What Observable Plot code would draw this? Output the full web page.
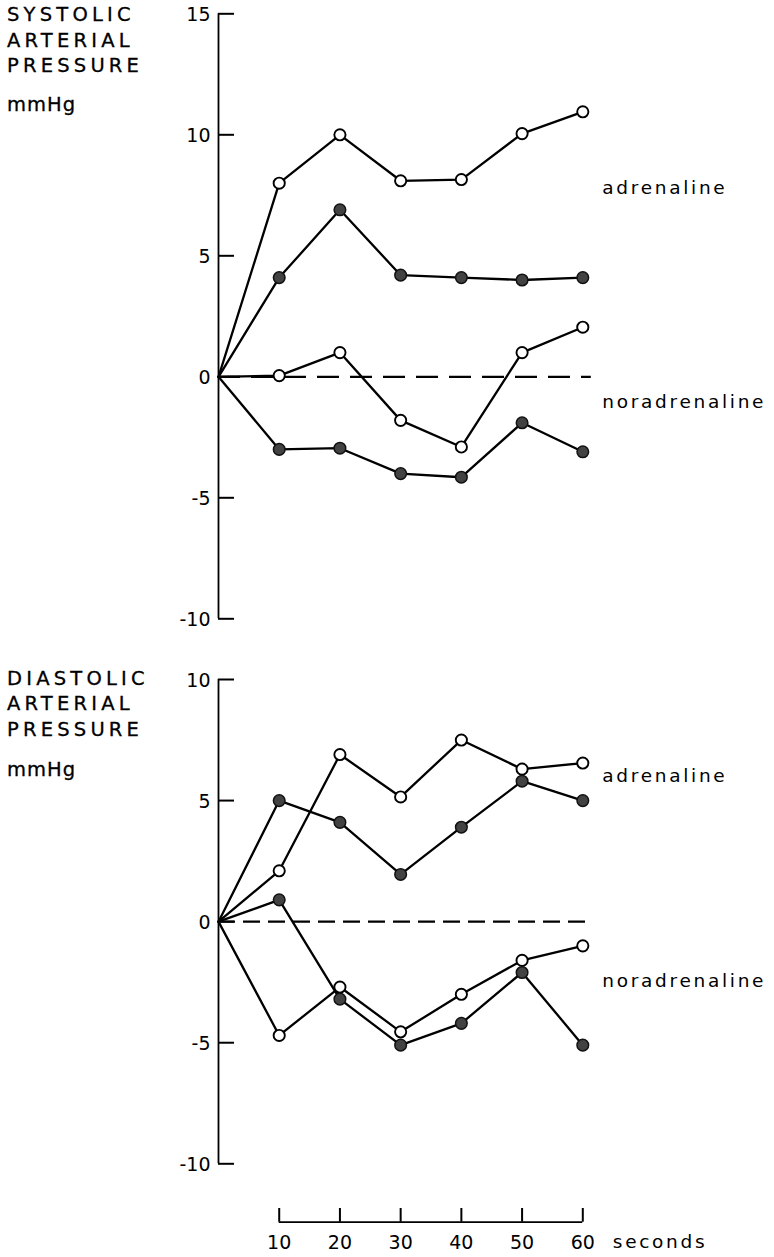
<!DOCTYPE html>
<html>
<head>
<meta charset="utf-8">
<script src="https://cdn.jsdelivr.net/npm/d3@7"></script>
<script src="https://cdn.jsdelivr.net/npm/@observablehq/plot@0.6"></script>
<style>
  html, body { margin: 0; padding: 0; background: #fff; }
  #page { position: relative; width: 774px; height: 1257px; overflow: hidden;
          font-family: "DejaVu Sans", sans-serif; color: #000; }
  .title { position: absolute; left: 7px; font-size: 19.5px; letter-spacing: 4.2px; line-height: 25.5px;
           -webkit-text-stroke: 0.3px #000; }
  .unit { position: absolute; left: 7px; font-size: 19.5px; letter-spacing: 1px; line-height: 25.5px;
          -webkit-text-stroke: 0.3px #000; }
  .panel { position: absolute; left: 0; }
  .panel svg { display: block; }
  .panel g[aria-label="text"] text { letter-spacing: 2.7px; }
</style>
</head>
<body>
<div id="page">
  <div class="title" style="top:2.4px">SYSTOLIC<br>ARTERIAL<br>PRESSURE</div>
  <div class="unit" style="top:92.4px">mmHg</div>
  <div class="title" style="top:665.7px">DIASTOLIC<br>ARTERIAL<br>PRESSURE</div>
  <div class="unit" style="top:757.4px">mmHg</div>
  <div class="panel" id="sys" style="top:0px"></div>
  <div class="panel" id="dia" style="top:640px"></div>
  <div class="panel" id="time" style="top:1195px"></div>
</div>
<script>
// Time after injection (s); every curve starts from the origin.
const seconds = [0, 10, 20, 30, 40, 50, 60];
const timeTicks = [10, 20, 30, 40, 50, 60];

// Systolic arterial pressure change (mmHg)
const sysAdrenalineOpen   = [0, 8.0, 10.0, 8.1, 8.15, 10.05, 10.95];
const sysAdrenalineFilled = [0, 4.1, 6.9, 4.2, 4.1, 4.0, 4.1];
const sysNoradrenalineOpen   = [0, 0.05, 1.0, -1.8, -2.9, 1.0, 2.05];
const sysNoradrenalineFilled = [0, -3.0, -2.95, -4.0, -4.15, -1.9, -3.1];
const sysTicks = [15, 10, 5, 0, -5, -10];

// Diastolic arterial pressure change (mmHg)
const diaAdrenalineOpen   = [0, 2.1, 6.9, 5.15, 7.5, 6.3, 6.55];
const diaAdrenalineFilled = [0, 5.0, 4.1, 1.95, 3.9, 5.8, 5.0];
const diaNoradrenalineOpen   = [0, -4.7, -2.7, -4.55, -3.0, -1.6, -1.0];
const diaNoradrenalineFilled = [0, 0.9, -3.2, -5.1, -4.2, -2.1, -5.1];
const diaTicks = [10, 5, 0, -5, -10];

const drugs = ["adrenaline", "noradrenaline"];

const W = 774, ML = 218, MR = 191.7;
const FRAME_W = W - ML - MR;
const baseStyle = {background: "transparent", color: "black", fontFamily: "DejaVu Sans, sans-serif", fontSize: "18px"};

function toRows(series) {
  return series.flatMap(s => seconds.map((t, i) => ({t, v: s.values[i], name: s.name, filled: s.filled})));
}

function panel({series, ticks, height, marginTop, marginBottom, dash, labelY}) {
  const rows = toRows(series);
  const pts = rows.filter(d => d.t > 0);
  const yDomain = [d3.min(ticks), d3.max(ticks)];
  return Plot.plot({
    width: W, height, marginLeft: ML, marginRight: MR, marginTop, marginBottom,
    x: {domain: [0, 60], axis: null},
    y: {domain: yDomain},
    style: baseStyle,
    marks: [
      // vertical axis with inward ticks
      Plot.ruleX([0], {y1: yDomain[0], y2: yDomain[1], strokeWidth: 1.8}),
      Plot.tickY(ticks, {y: d => d, insetRight: FRAME_W - 16, strokeWidth: 2}),
      Plot.axisY(ticks, {anchor: "left", tickSize: 0, tickPadding: 8, fontSize: 19, dy: 1,
                         tickFormat: d => String(d), label: null}),
      // baseline (no change)
      Plot.ruleY([0], {x1: 0, x2: 61.4, strokeWidth: 2.2, strokeDasharray: dash}),
      Plot.line(rows, {x: "t", y: "v", z: "name", stroke: "black", strokeWidth: 2.3}),
      Plot.dot(pts.filter(d => !d.filled), {x: "t", y: "v", r: 5.6, fill: "white", stroke: "black", strokeWidth: 1.9}),
      Plot.dot(pts.filter(d => d.filled), {x: "t", y: "v", r: 5.8, fill: "#424242", stroke: "#111", strokeWidth: 1.5}),
      Plot.text(drugs, {x: 60, y: (d, i) => labelY[i], dx: 19.5, textAnchor: "start", fontSize: 18.5})
    ]
  });
}

document.getElementById("sys").append(panel({
  series: [
    {name: "adr-open", filled: false, values: sysAdrenalineOpen},
    {name: "adr-filled", filled: true, values: sysAdrenalineFilled},
    {name: "nor-open", filled: false, values: sysNoradrenalineOpen},
    {name: "nor-filled", filled: true, values: sysNoradrenalineFilled}
  ],
  ticks: sysTicks, height: 640, marginTop: 13.3, marginBottom: 21.7,
  dash: "22,11", labelY: [7.8, -1.05]
}));

document.getElementById("dia").append(panel({
  series: [
    {name: "adr-open", filled: false, values: diaAdrenalineOpen},
    {name: "adr-filled", filled: true, values: diaAdrenalineFilled},
    {name: "nor-open", filled: false, values: diaNoradrenalineOpen},
    {name: "nor-filled", filled: true, values: diaNoradrenalineFilled}
  ],
  ticks: diaTicks, height: 555, marginTop: 39, marginBottom: 31.7,
  dash: "17,8", labelY: [6.0, -2.45]
}));

// Time axis shared by both panels
document.getElementById("time").append(Plot.plot({
  width: W, height: 62, marginLeft: ML, marginRight: MR, marginTop: 13, marginBottom: 35.3,
  x: {domain: [0, 60]},
  y: {domain: [0, 1], axis: null},
  style: baseStyle,
  marks: [
    Plot.ruleY([0], {x1: 10, x2: 60, strokeWidth: 1.8}),
    Plot.ruleX(timeTicks, {y1: 0, y2: 1, strokeWidth: 2}),
    Plot.axisX(timeTicks, {anchor: "bottom", tickSize: 0, tickPadding: 13, fontSize: 19,
                           tickFormat: d => String(d), label: null}),
    Plot.text(["seconds"], {x: 60, y: 0, dx: 30, dy: 20, textAnchor: "start", fontSize: 18.5})
  ]
}));
</script>
</body>
</html>
